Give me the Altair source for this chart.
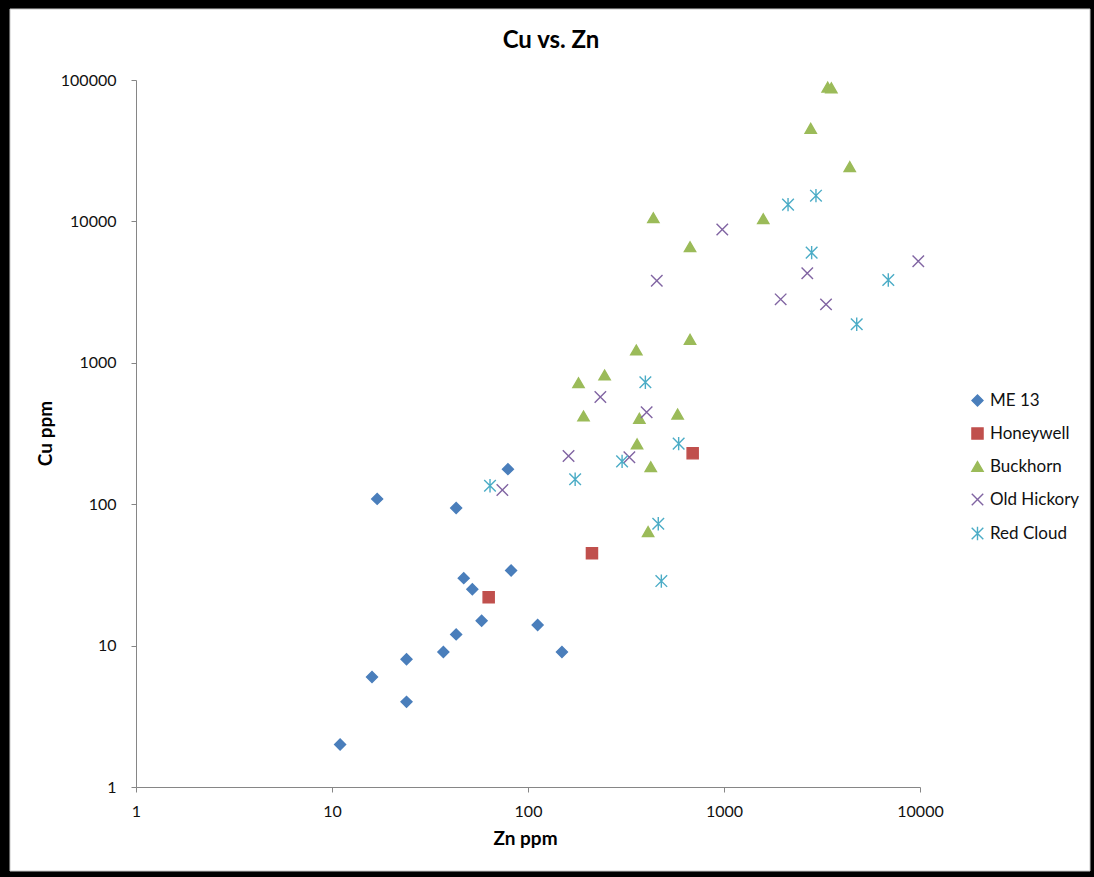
import altair as alt
import pandas as pd

# Zn / Cu assays (ppm) by locality
series_names = ["ME 13", "Honeywell", "Buckhorn", "Old Hickory", "Red Cloud"]
series_colors = ["#4A7EBB", "#C0504D", "#9BBB59", "#8064A2", "#4BACC6"]

me13_zn = [11, 16, 24, 24, 37, 43, 58, 47, 52, 82, 112, 149, 17, 43, 79]
me13_cu = [2, 6, 8, 4, 9, 12, 15, 30, 25, 34, 14, 9, 109, 94, 177]

honeywell_zn = [63, 212, 692]
honeywell_cu = [22, 45, 229]

buckhorn_zn = [3380, 3530, 2770, 4380, 1586, 671, 671, 436, 357, 246, 181,
               192, 370, 580, 360, 423, 410]
buckhorn_cu = [89000, 88000, 45500, 24400, 10450, 6620, 1466, 10620, 1232, 820,
               723, 421, 405, 434, 267, 184, 64]

hickory_zn = [454, 234, 403, 161, 329, 74, 980, 9800, 2660, 1946, 3315]
hickory_cu = [3810, 573, 447, 219, 215, 126, 8770, 5220, 4300, 2810, 2590]

redcloud_zn = [2946, 2122, 2800, 6890, 4755, 397, 587, 302, 174, 64, 462, 479]
redcloud_cu = [15200, 13130, 6010, 3850, 1872, 728, 268, 201, 150, 135, 72.8, 28.6]

x_ticks = [1, 10, 100, 1000, 10000]
y_ticks = [1, 10, 100, 1000, 10000, 100000]

chart_title = ["Cu vs. Zn"]

frames = []
for name, zn, cu in [
    ("ME 13", me13_zn, me13_cu),
    ("Honeywell", honeywell_zn, honeywell_cu),
    ("Buckhorn", buckhorn_zn, buckhorn_cu),
    ("Old Hickory", hickory_zn, hickory_cu),
    ("Red Cloud", redcloud_zn, redcloud_cu),
]:
    frames.append(pd.DataFrame({"series": name, "zn": zn, "cu": cu}))
df = pd.concat(frames, ignore_index=True)

X_PATH = "M-1,-1L1,1M-1,1L1,-1"
STAR_PATH = "M-1,-1L1,1M-1,1L1,-1M0,-1.15L0,1.15"
shapes = ["diamond", "square", "triangle-up", X_PATH, STAR_PATH]
sizes = [120, 135, 170, 110, 115]

FONT = "Lato"

color_scale = alt.Scale(domain=series_names, range=series_colors)

# white card inside the black frame
card = alt.Chart(pd.DataFrame({"k": [0]})).mark_rect(
    fill="white", stroke="#c8c8c8", strokeWidth=1
).encode(
    x=alt.value(-126), x2=alt.value(954), y=alt.value(-71), y2=alt.value(791)
)

title_text = alt.Chart(pd.DataFrame({"t": chart_title})).mark_text(
    font=FONT, fontSize=24, fontWeight="bold", color="#000000",
    align="center", baseline="alphabetic",
).encode(text="t:N", x=alt.value(415), y=alt.value(-32))

axis_common = dict(
    format="d", grid=False, zindex=1,
    domainColor="#868686", tickColor="#868686", tickSize=5,
    labelFont=FONT, labelFontSize=16, labelColor="#111111", labelFlush=False,
    titleFont=FONT, titleFontSize=19, titleFontWeight="bold", titleColor="#000000",
)

points = alt.Chart(df).mark_point(filled=False, strokeWidth=1.4, opacity=1).encode(
    x=alt.X(
        "zn:Q",
        scale=alt.Scale(type="log", domain=[1, 10000], nice=False),
        axis=alt.Axis(
            values=x_ticks, title="Zn ppm", labelPadding=11,
            titleX=389, titleY=57, titleBaseline="alphabetic",
            **axis_common,
        ),
    ),
    y=alt.Y(
        "cu:Q",
        scale=alt.Scale(type="log", domain=[1, 100000], nice=False),
        axis=alt.Axis(
            values=y_ticks, title="Cu ppm", labelPadding=15,
            titleX=-91, titleY=353, titleAlign="center",
            titleBaseline="middle", titleAngle=-90,
            **axis_common,
        ),
    ),
    color=alt.Color("series:N", scale=color_scale, title=None,
                    legend=alt.Legend(orient="none", legendX=833, legendY=312,
                                      labelFont=FONT, labelFontSize=17,
                                      labelColor="#111111", rowPadding=15,
                                      symbolSize=110, symbolStrokeWidth=1.4,
                                      labelOffset=4, zindex=1)),
    fill=alt.Fill("series:N", scale=color_scale, title=None),
    shape=alt.Shape("series:N", scale=alt.Scale(domain=series_names, range=shapes),
                    title=None),
    size=alt.Size("series:N", scale=alt.Scale(domain=series_names, range=sizes),
                  legend=None),
)

chart = alt.layer(card, title_text, points).properties(
    width=784,
    height=707,
    padding={"left": 136, "top": 80, "right": 174, "bottom": 90},
    autosize=alt.AutoSizeParams(type="none"),
    background="black",
).configure_view(stroke=None)

chart.save("out.html", embed_options={"renderer": "svg", "actions": False})
